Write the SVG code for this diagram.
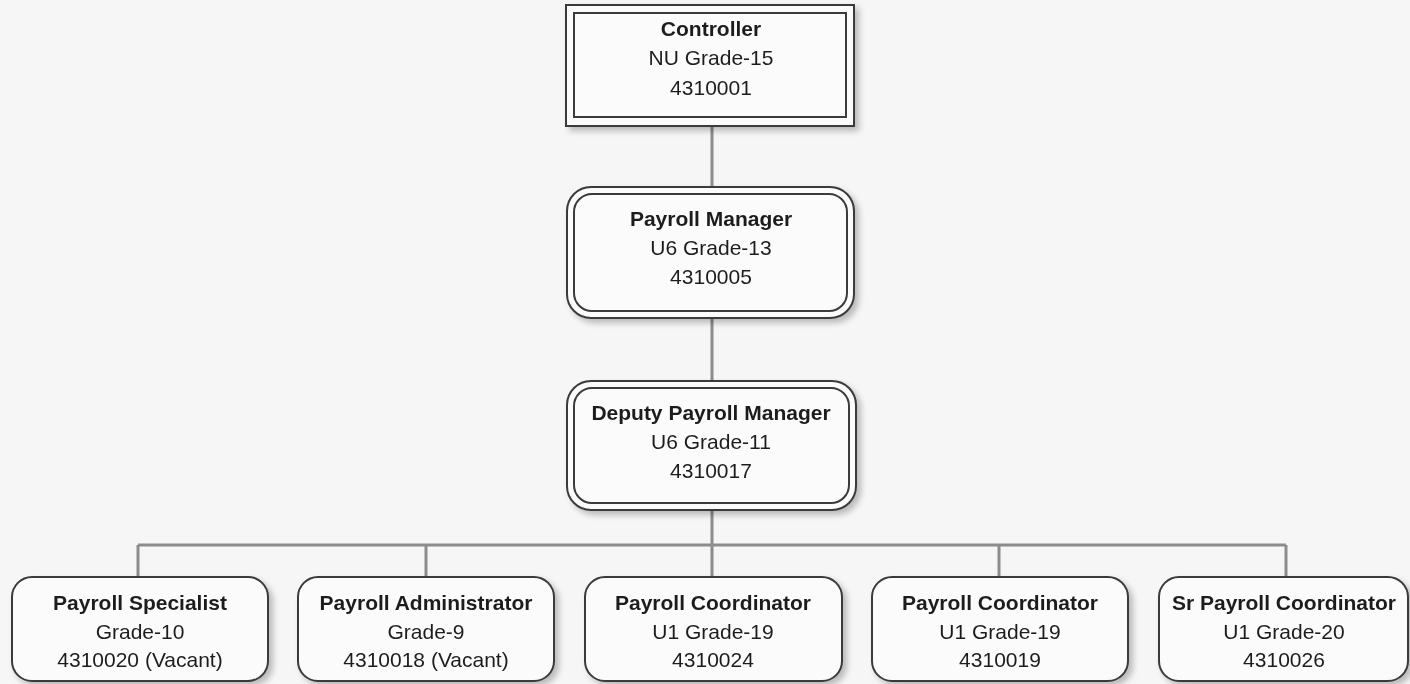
<svg xmlns="http://www.w3.org/2000/svg" width="1410" height="684" viewBox="0 0 1410 684">
<defs>
<filter id="sh" x="-10%" y="-10%" width="125%" height="130%">
<feGaussianBlur in="SourceAlpha" stdDeviation="3"/>
<feOffset dx="4" dy="4" result="b"/>
<feComponentTransfer><feFuncA type="linear" slope="0.25"/></feComponentTransfer>
<feMerge><feMergeNode/><feMergeNode in="SourceGraphic"/></feMerge>
</filter>
</defs>
<style>
.box{fill:#fbfbfb;stroke:#3a3a3a;stroke-width:2}
.in{fill:none;stroke:#3a3a3a;stroke-width:2}
.conn{fill:none;stroke:#8c8c8c;stroke-width:3}
text{font-family:"Liberation Sans",Arial,sans-serif;font-size:21px;fill:#1e1e1e;text-anchor:middle}
.t{font-weight:bold}
</style>
<rect width="1410" height="684" fill="#f6f6f6"/>
<g id="connectors">
<path class="conn" d="M712 126V187M712 318V381M712 510V545M138 545H1286M138 545V577M426 545V577M712 545V577M999 545V577M1286 545V577"/>
</g>
<g id="controller" filter="url(#sh)">
<rect class="box" x="566" y="5" width="288" height="121"/>
<rect class="in" x="574" y="13" width="272" height="104"/>
<text class="t" x="711" y="36">Controller</text>
<text x="711" y="65">NU Grade-15</text>
<text x="711" y="95">4310001</text>
</g>
<g id="payroll-manager" filter="url(#sh)">
<rect class="box" x="567" y="187" width="287" height="131" rx="24"/>
<rect class="in" x="574" y="194" width="273" height="117" rx="18"/>
<text class="t" x="711" y="226">Payroll Manager</text>
<text x="711" y="255">U6 Grade-13</text>
<text x="711" y="284">4310005</text>
</g>
<g id="deputy-payroll-manager" filter="url(#sh)">
<rect class="box" x="567" y="381" width="289" height="129" rx="24"/>
<rect class="in" x="574" y="388" width="275" height="115" rx="18"/>
<text class="t" x="711" y="420">Deputy Payroll Manager</text>
<text x="711" y="449">U6 Grade-11</text>
<text x="711" y="478">4310017</text>
</g>
<g id="payroll-specialist" filter="url(#sh)">
<rect class="box" x="12" y="577" width="256" height="104" rx="20"/>
<text class="t" x="140" y="610">Payroll Specialist</text>
<text x="140" y="639">Grade-10</text>
<text x="140" y="667">4310020 (Vacant)</text>
</g>
<g id="payroll-administrator" filter="url(#sh)">
<rect class="box" x="298" y="577" width="256" height="104" rx="20"/>
<text class="t" x="426" y="610">Payroll Administrator</text>
<text x="426" y="639">Grade-9</text>
<text x="426" y="667">4310018 (Vacant)</text>
</g>
<g id="payroll-coordinator-1" filter="url(#sh)">
<rect class="box" x="585" y="577" width="257" height="104" rx="20"/>
<text class="t" x="713" y="610">Payroll Coordinator</text>
<text x="713" y="639">U1 Grade-19</text>
<text x="713" y="667">4310024</text>
</g>
<g id="payroll-coordinator-2" filter="url(#sh)">
<rect class="box" x="872" y="577" width="256" height="104" rx="20"/>
<text class="t" x="1000" y="610">Payroll Coordinator</text>
<text x="1000" y="639">U1 Grade-19</text>
<text x="1000" y="667">4310019</text>
</g>
<g id="sr-payroll-coordinator" filter="url(#sh)">
<rect class="box" x="1159" y="577" width="249" height="104" rx="20"/>
<text class="t" x="1284" y="610">Sr Payroll Coordinator</text>
<text x="1284" y="639">U1 Grade-20</text>
<text x="1284" y="667">4310026</text>
</g>
</svg>
